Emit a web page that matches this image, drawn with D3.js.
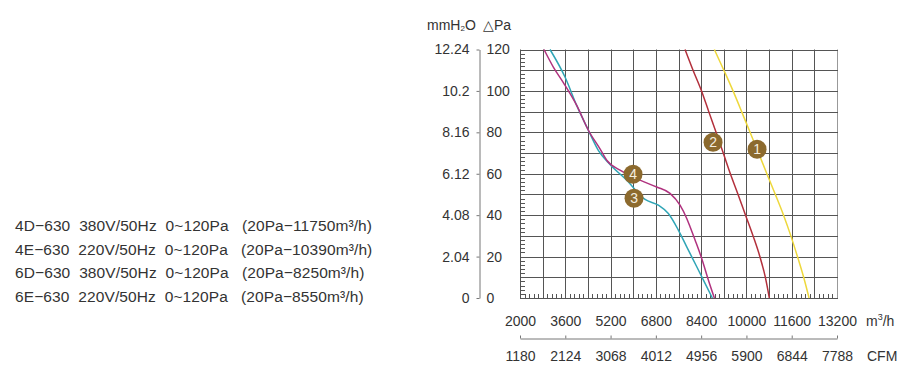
<!DOCTYPE html>
<html>
<head>
<meta charset="utf-8">
<script src="https://cdn.jsdelivr.net/npm/d3@7"></script>
<style>
  html, body { margin: 0; padding: 0; background: #fff; }
  svg { display: block; }
  text { font-family: "Liberation Sans", Arial, sans-serif; fill: #333; }
</style>
</head>
<body>
<svg id="chart" width="900" height="379"></svg>
<script>
// ---- data ----
const flowTicks = [2000, 3600, 5200, 6800, 8400, 10000, 11600, 13200];
const cfmLabels = ["1180", "2124", "3068", "4012", "4956", "5900", "6844", "7788"];
const paTicks = [0, 20, 40, 60, 80, 100, 120];
const mmLabels = ["0", "2.04", "4.08", "6.12", "8.16", "10.2", "12.24"];

const modelLines = [
  "4D\u2212630  380V/50Hz  0~120Pa   (20Pa\u221211750m\u00B3/h)",
  "4E\u2212630  220V/50Hz  0~120Pa   (20Pa\u221210390m\u00B3/h)",
  "6D\u2212630  380V/50Hz  0~120Pa   (20Pa\u22128250m\u00B3/h)",
  "6E\u2212630  220V/50Hz  0~120Pa   (20Pa\u22128550m\u00B3/h)"
];

// curve 1 (yellow): [flow m3/h, pressure Pa]
const curve1 = [[8867,120],[9202,110],[9527,100],[9831,90],[10128,80],[10429,70],[10722,60],[11022,50],[11312,40],[11570,30],[11803,20],[12022,10],[12213,0]];
// curve 2 (red)
const curve2 = [[7831,120],[8114,110],[8414,100],[8669,90],[8927,80],[9181,70],[9432,60],[9704,50],[9969,40],[10234,30],[10475,20],[10669,10],[10810,0]];
// curve 3 (teal)
const curve3 = [[3060,120],[3590,106.7],[4003,93],[4415,81],[4767,71.3],[5181,64.5],[5770,56.9],[6418,47.6],[6888,44.8],[7242,40.8],[7595,32.8],[7891,24.7],[8245,15.1],[8538,7.1],[8796,0]];
// curve 4 (magenta)
const curve4 = [[2848,120],[3178,111.5],[3531,104],[4003,93],[4415,81],[4827,72],[5064,66.5],[5534,61.7],[6241,56.9],[6830,53.6],[7301,50.5],[7654,44.8],[7891,38.4],[8008,34.4],[8185,28],[8420,19.1],[8655,8.7],[8867,0]];

const curveIds = ["1", "2", "3", "4"];
const curveColors = ["#eed83c", "#b3303c", "#2fa5b6", "#b0327f"];
// marker positions in data units (flow m3/h, pressure Pa)
const markerPts = [[10376,71.8],[8821,75.2],[6029,48.2],[5993,59.8]];

// ---- layout ----
const svg = d3.select("#chart");
const L = 520, R = 837, T = 49.5, B = 298;
const x = d3.scaleLinear().domain([2000, 13200]).range([L, R]);
const y = d3.scaleLinear().domain([0, 120]).range([B, T]);

// grid
const g = svg.append("g");
const vLines = d3.range(2000, 13201, 800);
const hLines = d3.range(0, 121, 10);
g.selectAll("line.v").data(vLines).join("line")
  .attr("x1", d => Math.round(x(d)) + 0.5).attr("x2", d => Math.round(x(d)) + 0.5)
  .attr("y1", T).attr("y2", B)
  .attr("stroke", (d, i) => i === vLines.length - 1 ? "#999" : "#555").attr("stroke-width", 1);
g.selectAll("line.h").data(hLines).join("line")
  .attr("x1", L).attr("x2", R + 1)
  .attr("y1", d => Math.round(y(d)) + 0.5).attr("y2", d => Math.round(y(d)) + 0.5)
  .attr("stroke", "#555").attr("stroke-width", 1);

// minor ticks
const minorX = d3.range(2000, 13200, 160).filter(d => (d - 2000) % 800 !== 0);
g.selectAll("line.mx").data(minorX).join("line")
  .attr("x1", d => Math.round(x(d)) + 0.5).attr("x2", d => Math.round(x(d)) + 0.5)
  .attr("y1", B).attr("y2", B - 4)
  .attr("stroke", "#555").attr("stroke-width", 1);
const minorY = d3.range(0, 120, 2).filter(d => d % 10 !== 0);
g.selectAll("line.my").data(minorY).join("line")
  .attr("x1", L).attr("x2", L + 5)
  .attr("y1", d => Math.round(y(d)) + 0.5).attr("y2", d => Math.round(y(d)) + 0.5)
  .attr("stroke", "#555").attr("stroke-width", 1);

// curves
const line = d3.line().x(d => x(d[0])).y(d => y(d[1])).curve(d3.curveMonotoneX);
[curve1, curve2, curve3, curve4].forEach((c, i) => {
  svg.append("path").datum(c).attr("d", line)
    .attr("fill", "none").attr("stroke", curveColors[i]).attr("stroke-width", 1.5);
});

// markers
const mk = svg.append("g");
markerPts.forEach((p, i) => {
  const gg = mk.append("g").attr("transform", `translate(${x(p[0])},${y(p[1])})`);
  gg.append("circle").attr("r", 9.5).attr("fill", "#8c6a2e");
  gg.append("text").attr("text-anchor", "middle").attr("dy", "0.36em")
    .style("fill", "#f4eee0").style("font-size", "14px").text(curveIds[i]);
});

// left axes
const axMm = d3.axisLeft(y).tickValues(paTicks).tickSizeInner(3).tickSizeOuter(0).tickPadding(7)
  .tickFormat((d, i) => mmLabels[i]);
const gMm = svg.append("g").attr("transform", "translate(479.5,0)").call(axMm);
gMm.select(".domain").attr("stroke", "#777");
gMm.selectAll(".tick line").attr("stroke", "#777");
gMm.selectAll("text").style("font-size", "14px").style("fill", "#333");

const axPa = d3.axisRight(y).tickValues(paTicks).tickSize(0).tickPadding(7);
const gPa = svg.append("g").attr("transform", "translate(479.5,0)").call(axPa);
gPa.select(".domain").remove();
gPa.selectAll("text").style("font-size", "14px").style("fill", "#333");

// header
const hdr = svg.append("text").attr("x", 427).attr("y", 30).style("font-size", "14px");
hdr.append("tspan").text("mmH");
hdr.append("tspan").text("2").style("font-size", "8px").attr("dy", 1);
hdr.append("tspan").text("O").attr("dy", -1);
svg.append("text").attr("x", 483).attr("y", 30).style("font-size", "14px").text("\u25B3Pa");

// bottom axes
const axQ = d3.axisBottom(x).tickValues(flowTicks).tickSize(0).tickPadding(18).tickFormat(d3.format("d"));
const gQ = svg.append("g").attr("transform", `translate(0,${B})`).call(axQ);
gQ.select(".domain").remove();
gQ.selectAll("text").style("font-size", "14px").style("fill", "#333");

const axC = d3.axisBottom(x).tickValues(flowTicks).tickSizeInner(-3).tickSizeOuter(0).tickPadding(13)
  .tickFormat((d, i) => cfmLabels[i]);
const gC = svg.append("g").attr("transform", "translate(0,338.5)").call(axC);
gC.select(".domain").attr("stroke", "#777");
gC.selectAll(".tick line").attr("stroke", "#777");
gC.selectAll("text").style("font-size", "14px").style("fill", "#333");

const unit = svg.append("text").attr("x", 866).attr("y", 326).style("font-size", "14px");
unit.append("tspan").text("m");
unit.append("tspan").text("3").style("font-size", "9px").attr("dy", -6);
unit.append("tspan").text("/h").attr("dy", 6);
svg.append("text").attr("x", 867).attr("y", 361).style("font-size", "14px").text("CFM");

// model list
svg.append("g").selectAll("text").data(modelLines).join("text")
  .attr("x", 15).attr("y", (d, i) => 231 + i * 23.5)
  .style("font-size", "15.5px").style("letter-spacing", "0.1px").style("white-space", "pre")
  .text(d => d);
</script>
</body>
</html>
